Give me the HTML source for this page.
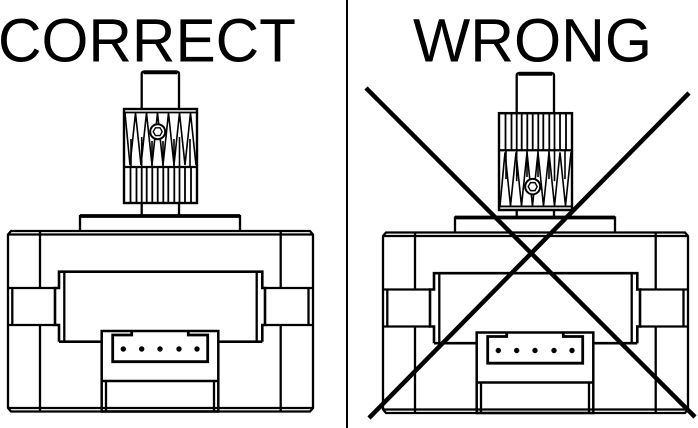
<!DOCTYPE html>
<html>
<head>
<meta charset="utf-8">
<style>
  html, body { margin: 0; padding: 0; background: #fff; }
  body { width: 698px; height: 428px; overflow: hidden; }
  svg { display: block; }
</style>
</head>
<body>
<svg width="698" height="428" viewBox="0 0 698 428" xmlns="http://www.w3.org/2000/svg">
  <rect x="0" y="0" width="698" height="428" fill="#fff"/>
  <defs>
    <g id="motor" fill="none" stroke="#000" stroke-width="2.3">
      <!-- shaft -->
      <path d="M141.7,215 V74 Q141.7,71.5 144.5,71.5 H176.2 Q179,71.5 179,74 V215"/>
      <line x1="143.5" y1="72.3" x2="177.2" y2="72.3" stroke-width="3.8"/>
      <!-- flange -->
      <path d="M80,231 V216 H240 V231"/>
      <line x1="80" y1="216" x2="240" y2="216" stroke-width="3.8"/>
      <!-- outer box -->
      <path d="M8,408 V234.5 L11,231 H310 L313,234.5 V408 L310,411.5 H11 Z"/>
      <line x1="8" y1="234.5" x2="313" y2="234.5"/>
      <line x1="8" y1="408" x2="313" y2="408"/>
      <!-- verticals -->
      <line x1="40" y1="231" x2="40" y2="288"/>
      <line x1="40" y1="325" x2="40" y2="411.5"/>
      <line x1="280.7" y1="231" x2="280.7" y2="288"/>
      <line x1="280.7" y1="325" x2="280.7" y2="411.5"/>
      <!-- tabs -->
      <line x1="8" y1="288" x2="55" y2="288"/>
      <line x1="8" y1="325" x2="55" y2="325"/>
      <line x1="12.3" y1="288" x2="12.3" y2="325"/>
      <line x1="265" y1="288" x2="313" y2="288"/>
      <line x1="265" y1="325" x2="313" y2="325"/>
      <line x1="308.5" y1="288" x2="308.5" y2="325"/>
      <!-- window -->
      <path d="M59,341.7 V325 H55 V288 H59 V271.7 H262.3 V288 H265 V325 H262.3 V341.7" stroke-width="2.6"/>
      <line x1="64.3" y1="271.7" x2="64.3" y2="341.7"/>
      <line x1="256.7" y1="271.7" x2="256.7" y2="341.7"/>
      <line x1="59" y1="341.7" x2="101.7" y2="341.7" stroke-width="2.6"/>
      <line x1="218.3" y1="341.7" x2="262.3" y2="341.7" stroke-width="2.6"/>
      <!-- connector -->
      <rect x="101.7" y="331" width="116.6" height="80.5" stroke-width="2.5"/>
      <line x1="101.7" y1="381" x2="218.3" y2="381" stroke-width="2.5"/>
      <line x1="106" y1="381" x2="106" y2="411"/>
      <line x1="214" y1="381" x2="214" y2="411"/>
      <path d="M131.7,331 V335 H112.7 V361.7 H207.7 V335 H188.3 V331" stroke-width="2.8"/>
      <g fill="#000" stroke="none">
        <circle cx="123.3" cy="349" r="2.7"/>
        <circle cx="141.7" cy="349" r="2.7"/>
        <circle cx="160" cy="349" r="2.7"/>
        <circle cx="179" cy="349" r="2.7"/>
        <circle cx="197" cy="349" r="2.7"/>
      </g>
    </g>
    <g id="pulley" stroke="#000" fill="none">
      <rect x="0" y="0" width="73" height="94" fill="#fff" stroke-width="2.4"/>
      <line x1="0" y1="3.5" x2="73" y2="3.5" stroke-width="1.8"/>
      <line x1="0" y1="58" x2="73" y2="58" stroke-width="2.2"/>
      <!-- lower straight teeth -->
      <g stroke-width="1.8">
        <line x1="6.5" y1="58" x2="6.5" y2="94"/>
        <line x1="12.5" y1="58" x2="12.5" y2="94"/>
        <line x1="17.7" y1="58" x2="17.7" y2="94"/>
        <line x1="22.7" y1="58" x2="22.7" y2="94"/>
        <line x1="28.3" y1="58" x2="28.3" y2="94"/>
        <line x1="33.7" y1="58" x2="33.7" y2="94"/>
        <line x1="39.3" y1="58" x2="39.3" y2="94"/>
        <line x1="44.3" y1="58" x2="44.3" y2="94"/>
        <line x1="50.3" y1="58" x2="50.3" y2="94"/>
        <line x1="55.5" y1="58" x2="55.5" y2="94"/>
        <line x1="61" y1="58" x2="61" y2="94"/>
        <line x1="67" y1="58" x2="67" y2="94"/>
      </g>
      <!-- upper knurled teeth -->
      <polyline points="1,4 6,56 11.5,4 17,56 22.5,4 28,56 33.5,4 39,56 44.5,4 50,56 55.5,4 61,56 66.5,4 72,56" stroke-width="1.6"/>
      <g stroke-width="1.6">
        <line x1="7" y1="30" x2="7" y2="58"/>
        <line x1="17.7" y1="28" x2="17.7" y2="58"/>
        <line x1="28" y1="32" x2="28" y2="58"/>
        <line x1="39" y1="32" x2="39" y2="58"/>
        <line x1="50" y1="30" x2="50" y2="58"/>
        <line x1="55.5" y1="28" x2="55.5" y2="58"/>
        <line x1="66" y1="30" x2="66" y2="58"/>
      </g>
      <!-- set screw hole -->
      <circle cx="33.7" cy="22.7" r="7.5" fill="#fff" stroke-width="2"/>
      <polygon points="38.2,22.7 36,26.6 31.5,26.6 29.2,22.7 31.5,18.8 36,18.8" stroke-width="1.4"/>
    </g>
  </defs>

  <!-- titles -->
  <text x="-2" y="61.5" font-family="Liberation Sans, Arial, sans-serif" font-size="61" fill="#000" textLength="298" lengthAdjust="spacingAndGlyphs">CORRECT</text>
  <text x="413" y="61.5" font-family="Liberation Sans, Arial, sans-serif" font-size="61" fill="#000" textLength="239" lengthAdjust="spacingAndGlyphs">WRONG</text>

  <!-- divider -->
  <line x1="347" y1="0" x2="347" y2="428" stroke="#000" stroke-width="2"/>

  <!-- left motor (correct) -->
  <use href="#motor"/>
  <use href="#pulley" transform="translate(124,109)"/>

  <!-- right motor (wrong) -->
  <use href="#motor" transform="translate(375,1.5)"/>
  <use href="#pulley" transform="translate(499,210) scale(1,-1.03)"/>

  <!-- X cross -->
  <line x1="366" y1="88" x2="695" y2="417" stroke="#000" stroke-width="4.5"/>
  <line x1="689" y1="93" x2="369" y2="418" stroke="#000" stroke-width="4.5"/>
</svg>
</body>
</html>
